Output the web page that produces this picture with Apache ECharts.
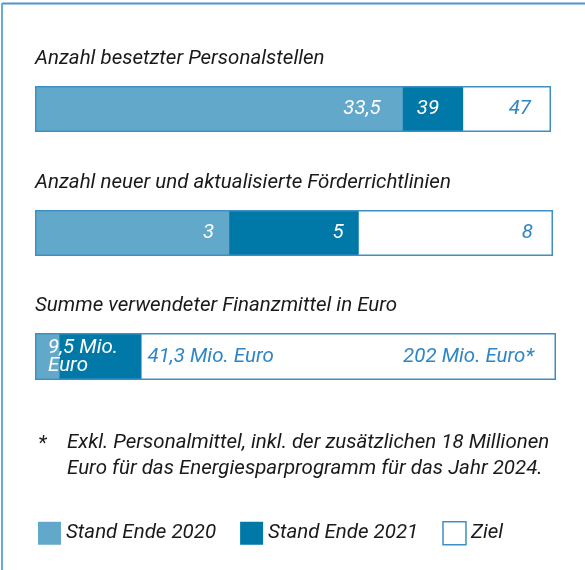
<!DOCTYPE html>
<html>
<head>
<meta charset="utf-8">
<script src="https://cdn.jsdelivr.net/npm/echarts@6/dist/echarts.min.js"></script>
<style>
  html, body { margin: 0; padding: 0; background: #fff; }
  #chart { width: 585px; height: 570px; }
</style>
</head>
<body>
<div id="chart"></div>
<script>
// Kennzahlen
var titles = ['Anzahl besetzter Personalstellen', 'Anzahl neuer und aktualisierte Förderrichtlinien', 'Summe verwendeter Finanzmittel in Euro'];
var stand2020 = [33.5, 3, 9.5];
var stand2021 = [39, 5, 41.3];
var ziel = [47, 8, 202];
var einheit = ['', '', ' Mio. Euro'];
var legendNames = ['Stand Ende 2020', 'Stand Ende 2021', 'Ziel'];
var fussnote = 'Exkl. Personalmittel, inkl. der zusätzlichen 18 Millionen\nEuro für das Energiesparprogramm für das Jahr 2024.';

var FONT = 'Roboto';
var FS = 20.5;
var hell = '#62a8ca', dunkel = '#0078a8', rand = '#3d8fc4', blauText = '#2f86c6';

// Layout je Balken
var gridPos = [
  { left: 35, top: 86, width: 516, height: 46 },
  { left: 35, top: 210, width: 518, height: 46 },
  { left: 35, top: 333, width: 521, height: 47 }
];
var titleTop = [49, 173, 296];

function fmt(v) { return String(v).replace('.', ','); }

var myChart = echarts.init(document.getElementById('chart'));

var grids = [], xAxes = [], yAxes = [], series = [], titleArr = [];
for (var i = 0; i < 3; i++) {
  grids.push(gridPos[i]);
  xAxes.push({ type: 'value', gridIndex: i, min: 0, max: ziel[i], show: false });
  yAxes.push({ type: 'category', gridIndex: i, data: [titles[i]], show: false });
  titleArr.push({
    text: titles[i], left: 35, top: titleTop[i], padding: 0,
    textStyle: { fontFamily: FONT, fontStyle: 'italic', fontWeight: 'normal', fontSize: FS, color: '#1a1a1a' }
  });
  var letzter = i === 2;
  var base = { type: 'bar', xAxisIndex: i, yAxisIndex: i, barWidth: '100%', barGap: '-100%', silent: true, animation: false };
  var lblStyle = { fontFamily: FONT, fontStyle: 'italic', fontSize: FS };
  series.push(Object.assign({}, base, {
    name: 'Ziel', data: [ziel[i]],
    itemStyle: { color: '#fff' },
    label: Object.assign({ show: true, position: 'insideRight', distance: letzter ? 22 : 20, color: blauText,
      formatter: function (p) { return fmt(p.value) + (p.seriesIndex === 8 ? ' Mio. Euro*' : ''); } }, lblStyle)
  }));
  series.push(Object.assign({}, base, {
    name: 'Stand Ende 2021', data: [stand2021[i]],
    itemStyle: { color: dunkel },
    label: Object.assign({ show: true,
      position: letzter ? 'right' : 'insideRight',
      distance: letzter ? 6 : (i === 0 ? 24 : 15),
      color: letzter ? blauText : '#fff',
      formatter: (function (k) { return function (p) { return fmt(p.value) + einheit[k]; }; })(i) }, lblStyle)
  }));
  series.push(Object.assign({}, base, {
    name: 'Stand Ende 2020', data: [stand2020[i]],
    itemStyle: { color: hell },
    label: Object.assign({ show: true,
      position: letzter ? 'insideLeft' : 'insideRight',
      distance: letzter ? 13 : (i === 0 ? 22 : 15),
      color: '#fff', lineHeight: 18,
      formatter: (function (k) { return function (p) { return fmt(p.value) + einheit[k].replace(' Euro', '\nEuro'); }; })(i) }, lblStyle)
  }));
  series.push(Object.assign({}, base, {
    name: 'Ziel-Rahmen', data: [ziel[i]],
    itemStyle: { color: 'transparent', borderColor: rand, borderWidth: 1.5 },
    z: 3
  }));
}

myChart.setOption({
  backgroundColor: '#fff',
  title: titleArr,
  grid: grids,
  xAxis: xAxes,
  yAxis: yAxes,
  legend: {
    data: [
      { name: legendNames[0], itemStyle: { color: hell } },
      { name: legendNames[1], itemStyle: { color: dunkel } },
      { name: legendNames[2], itemStyle: { color: '#fff', borderColor: rand, borderWidth: 1.5 } }
    ],
    left: 38, top: 521, padding: 0,
    icon: 'rect', itemWidth: 23, itemHeight: 23, itemGap: 24,
    selectedMode: false,
    textStyle: { fontFamily: FONT, fontStyle: 'italic', fontSize: FS, color: '#1a1a1a', padding: [10, 0, 0, 0] }
  },
  graphic: [
    { type: 'line', shape: { x1: 2, y1: 3.5, x2: 585, y2: 3.5 }, style: { stroke: '#4f95cb', lineWidth: 2 } },
    { type: 'line', shape: { x1: 2, y1: 3, x2: 2, y2: 570 }, style: { stroke: '#6aa8d6', lineWidth: 2 } },
    { type: 'text', left: 38, top: 434, style: { text: '*', fontFamily: FONT, fontStyle: 'italic', fontSize: FS, fill: '#1a1a1a' } },
    { type: 'text', left: 67, top: 430, style: { text: fussnote, fontFamily: FONT, fontStyle: 'italic', fontSize: FS, lineHeight: 26, fill: '#1a1a1a' } }
  ],
  series: series
});
</script>
</body>
</html>
